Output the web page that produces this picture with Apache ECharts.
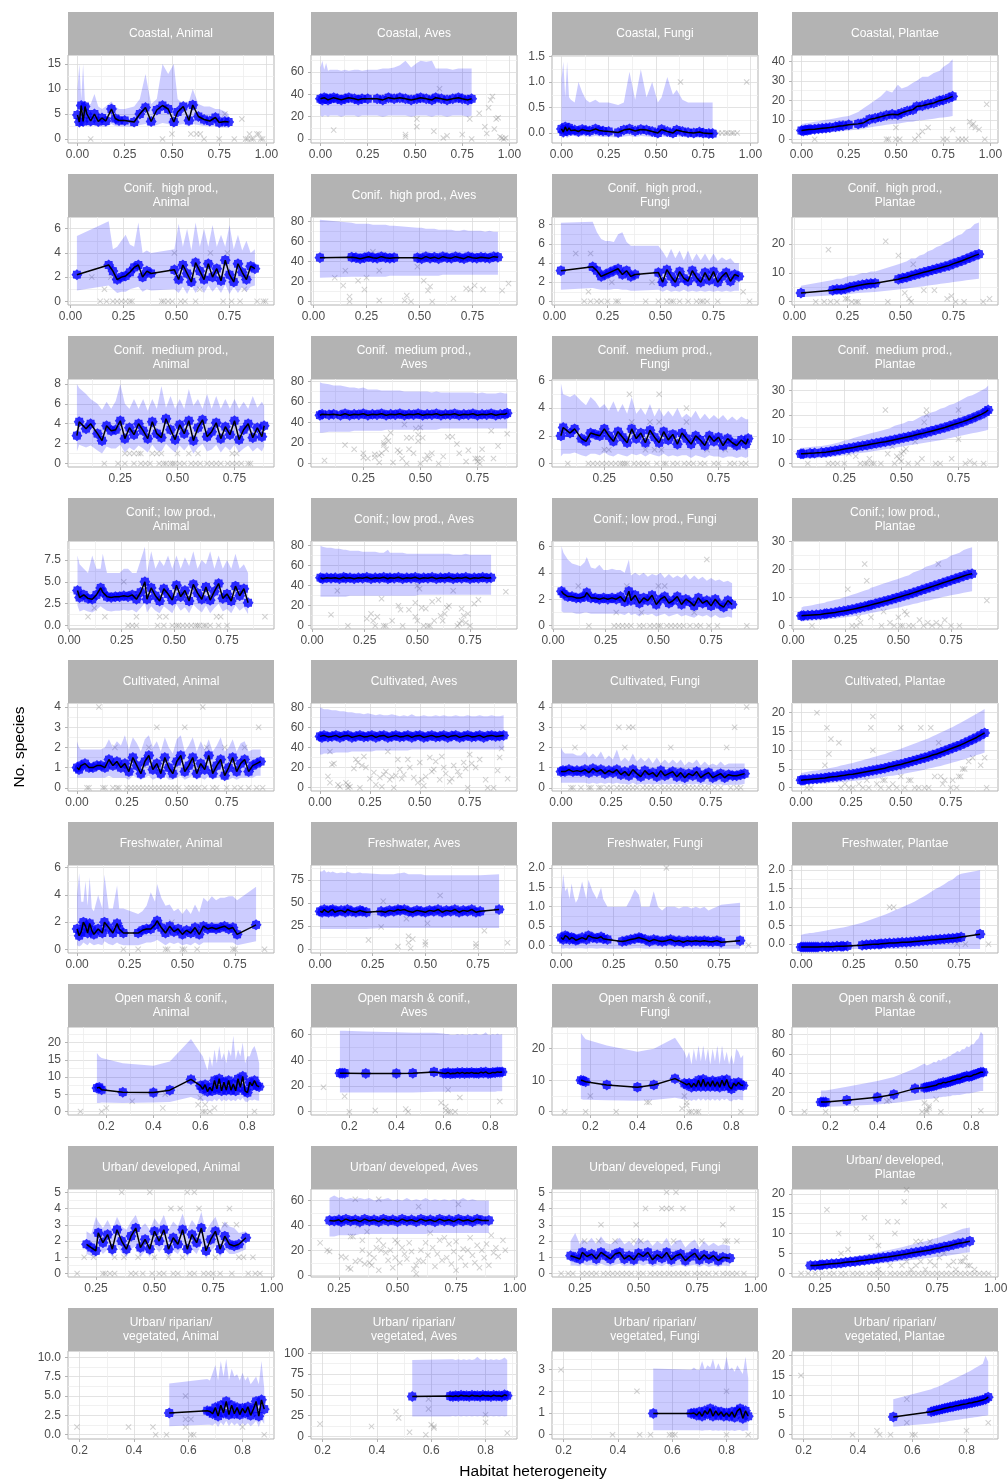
<!DOCTYPE html>
<html>
<head>
<meta charset="utf-8">
<script src="https://cdn.jsdelivr.net/npm/echarts@6/dist/echarts.min.js"></script>
<style>
html,body{margin:0;padding:0;background:#fff}
#chart{width:1008px;height:1481px}
</style>
</head>
<body>
<div id="chart"></div>
<script>
// facet strip labels
var stripTitles = [
	'Coastal, Animal', 'Coastal, Aves', 'Coastal, Fungi', 'Coastal, Plantae',
	'Conif.  high prod.,\nAnimal', 'Conif.  high prod., Aves', 'Conif.  high prod.,\nFungi', 'Conif.  high prod.,\nPlantae',
	'Conif.  medium prod.,\nAnimal', 'Conif.  medium prod.,\nAves', 'Conif.  medium prod.,\nFungi', 'Conif.  medium prod.,\nPlantae',
	'Conif.; low prod.,\nAnimal', 'Conif.; low prod., Aves', 'Conif.; low prod., Fungi', 'Conif.; low prod.,\nPlantae',
	'Cultivated, Animal', 'Cultivated, Aves', 'Cultivated, Fungi', 'Cultivated, Plantae',
	'Freshwater, Animal', 'Freshwater, Aves', 'Freshwater, Fungi', 'Freshwater, Plantae',
	'Open marsh & conif.,\nAnimal', 'Open marsh & conif.,\nAves', 'Open marsh & conif.,\nFungi', 'Open marsh & conif.,\nPlantae',
	'Urban/ developed, Animal', 'Urban/ developed, Aves', 'Urban/ developed, Fungi', 'Urban/ developed,\nPlantae',
	'Urban/ riparian/\nvegetated, Animal', 'Urban/ riparian/\nvegetated, Aves', 'Urban/ riparian/\nvegetated, Fungi', 'Urban/ riparian/\nvegetated, Plantae'
];
// x axis per row (habitat)
var xRanges = [[-0.05, 1.04], [-0.012, 0.96], [0.021, 0.923], [-0.005, 0.973], [-0.045, 0.987], [-0.043, 0.935], [0.037, 0.913], [0.131, 1.01], [0.157, 0.916]];
var xTicks = [[0, 0.25, 0.5, 0.75, 1], [0, 0.25, 0.5, 0.75], [0.25, 0.5, 0.75], [0, 0.25, 0.5, 0.75], [0, 0.25, 0.5, 0.75], [0, 0.25, 0.5, 0.75], [0.2, 0.4, 0.6, 0.8], [0.25, 0.5, 0.75, 1], [0.2, 0.4, 0.6, 0.8]];
// y axis per panel
var yRanges = [
	[-0.8, 16.8], [-3.5, 75.1], [-0.196, 1.53], [-1.9, 43.2],
	[-0.3, 6.96], [-3.4, 84.7], [-0.38, 8.8], [-1.15, 29.4],
	[-0.35, 8.5], [-3.3, 82.2], [-0.25, 6.1], [-1.4, 34.7],
	[-0.4, 9.66], [-3.3, 84.7], [-0.25, 6.4], [-1.2, 30.2],
	[-0.16, 4.2], [-3.3, 84.2], [-0.16, 4.2], [-0.9, 22.6],
	[-0.27, 6.2], [-4, 91], [-0.2, 2.08], [-0.24, 2.14],
	[-1, 24.5], [-2.6, 66], [-1.05, 26.9], [-3.4, 88],
	[-0.21, 5.2], [-1.4, 69.2], [-0.21, 5.2], [-0.9, 21.2],
	[-0.55, 10.8], [-3.2, 102.8], [-0.2, 3.86], [-1.1, 21.2]
];
var yTicks = [
	[0, 5, 10, 15], [0, 20, 40, 60], [0, 0.5, 1, 1.5], [0, 10, 20, 30, 40],
	[0, 2, 4, 6], [0, 20, 40, 60, 80], [0, 2, 4, 6, 8], [0, 10, 20],
	[0, 2, 4, 6, 8], [0, 20, 40, 60, 80], [0, 2, 4, 6], [0, 10, 20, 30],
	[0, 2.5, 5, 7.5], [0, 20, 40, 60, 80], [0, 2, 4, 6], [0, 10, 20, 30],
	[0, 1, 2, 3, 4], [0, 20, 40, 60, 80], [0, 1, 2, 3, 4], [0, 5, 10, 15, 20],
	[0, 2, 4, 6], [0, 25, 50, 75], [0, 0.5, 1, 1.5, 2], [0, 0.5, 1, 1.5, 2],
	[0, 5, 10, 15, 20], [0, 20, 40, 60], [0, 10, 20], [0, 20, 40, 60, 80],
	[0, 1, 2, 3, 4, 5], [0, 20, 40, 60], [0, 1, 2, 3, 4, 5], [0, 5, 10, 15, 20],
	[0, 2.5, 5, 7.5, 10], [0, 25, 50, 75, 100], [0, 1, 2, 3], [0, 5, 10, 15, 20]
];

// Coastal
var xCoastal = [0,0.01,0.02,0.03,0.04,0.05,0.07,0.09,0.11,0.13, 0.15,0.18,0.2,0.22,0.25,0.3,0.33,0.36,0.39,0.42, 0.45,0.48,0.51,0.53,0.56,0.59,0.61,0.64,0.67,0.7, 0.73,0.75,0.78,0.8];
var fitCoastalAnimal = [4.8,3.4,6.7,3.5,6.5,5.0,3.6,5.0,3.5,4.2, 3.6,6.0,4.1,3.7,3.7,3.4,5.0,6.3,3.5,5.8, 6.7,6.0,3.4,5.4,6.5,3.7,6.8,4.5,3.9,3.6, 4.3,3.3,3.5,3.4];
var hiCoastalAnimal = [10,15,8,15,7,7,7,9,6.5,6, 6.5,7.5,6.5,6,6,6.5,8,13,7,8, 15,13,15,8,7,7.5,10,7,6.5,6.5, 6,6,5.5,5];
var loCoastalAnimal = [2.8,2.2,2.8,2.4,2.8,2.6,2.5,2.8,2.4,2.5, 2.4,3,2.6,2.5,2.5,2.4,2.8,3,2.5,2.8, 3.2,3,2.4,2.8,3,2.5,3,2.8,2.6,2.5, 2.6,2.3,2.3,2.2];
var obsCoastalAnimal = [[0.07,0],[0.45,0],[0.5,1],[0.6,1],[0.63,1],[0.65,1],[0.67,0],[0.75,0],[0.78,5],[0.83,0],[0.87,4],[0.89,0],[0.9,0],[0.91,1],[0.92,0],[0.93,0],[0.95,1],[0.96,1],[0.97,0],[0.98,0]];
var fitCoastalAves = [36,35,37,36,35,36,37,36,35,36, 37,36,35,36,36,36,35,37,36,37, 36,35,36,37,36,35,37,36,35,36, 37,36,35,36];
var hiCoastalAves = [64,70,62,68,61,62,62,62,61,62, 61,62,62,61,62,62,63,63,64,66, 70,64,68,70,69,70,63,63,63,62, 63,63,63,63];
var loCoastalAves = [21,20,21,21,20,21,21,21,20,21, 21,21,20,21,21,21,20,21,21,21, 21,20,21,21,21,20,21,21,20,21, 21,21,20,21];
var obsCoastalAves = [[0.07,8],[0.45,2],[0.45,4],[0.51,11],[0.51,18],[0.6,7],[0.63,45],[0.65,1],[0.67,3],[0.75,4],[0.79,18],[0.8,0],[0.84,23],[0.87,11],[0.88,5],[0.89,28],[0.9,35],[0.91,38],[0.92,9],[0.93,18],[0.94,19],[0.95,2],[0.96,1],[0.97,0],[0.98,1]];
var fitCoastalFungi = [0.08,0.02,0.12,0.04,0.1,0.05,0.06,0.03,0.07,0.05, 0.04,0.08,0.05,0.04,0.03,0.01,0.06,0.08,0.04,0.07, 0.06,0.03,0.0,0.07,0.03,0.0,0.06,0.03,0.01,0.0, 0.02,0.0,-0.01,-0.01];
var hiCoastalFungi = [1.05,1.4,0.7,1.4,0.7,0.65,0.6,1.0,0.8,0.65, 0.6,0.65,0.6,0.6,0.6,0.55,0.6,1.2,0.65,1.25, 0.7,1.0,0.6,0.7,1.1,0.75,0.85,0.65,0.6,0.6, 0.6,0.6,0.6,0.6];
var loCoastalFungi = [-0.08,-0.1,-0.06,-0.1,-0.07,-0.06,-0.06,-0.08,-0.06,-0.07, -0.08,-0.06,-0.07,-0.08,-0.08,-0.09,-0.07,-0.06,-0.08,-0.06, -0.07,-0.08,-0.1,-0.07,-0.08,-0.1,-0.07,-0.08,-0.09,-0.1, -0.09,-0.1,-0.1,-0.1];
var obsCoastalFungi = [[0.63,1],[0.98,1],[0.83,0],[0.85,0],[0.87,0],[0.88,0],[0.9,0],[0.91,0],[0.93,0]];
var fitCoastalPlantae = [4.5,4.3,4.8,4.6,5.0,5.0,5.2,5.4,5.6,5.8, 6.0,6.4,6.8,7.0,7.4,7.9,8.5,10.2,10.8,11.5, 12.3,12.8,12.6,13.5,14.5,15.2,16.8,17.2,18.0,18.6, 19.8,20.2,21.2,22.0];
var hiCoastalPlantae = [8,8,8.2,8.3,8.5,8.6,9,9.3,9.6,10, 10.3,10.8,11.2,11.6,12,14,16,18,20,22, 25,24,28,26,27,29,30,32,32,34, 35,37,39,41];
var loCoastalPlantae = [2.5,2.5,2.6,2.7,2.8,2.9,3,3.1,3.2,3.4, 3.6,3.8,4,4.2,4.5,5,5.4,6,6.5,7, 7.4,7.8,8,8.4,8.8,9,9.5,9.8,10.2,10.5, 11,11.2,11.6,12];
var obsCoastalPlantae = [[0.07,0],[0.45,0],[0.46,0],[0.5,0],[0.5,6],[0.52,0],[0.6,0],[0.62,2],[0.64,4],[0.67,6],[0.75,0],[0.77,0],[0.8,5],[0.83,0],[0.85,0],[0.87,0],[0.89,9],[0.9,7],[0.91,8],[0.92,6],[0.94,5],[0.97,0],[0.98,18]];

// Conif. high prod.
var xConifHigh = [0.03,0.18,0.2,0.22,0.24,0.26,0.28,0.3,0.32,0.34, 0.36,0.38,0.49,0.51,0.53,0.55,0.57,0.59,0.61,0.63, 0.65,0.67,0.69,0.71,0.73,0.75,0.77,0.79,0.81,0.83, 0.85,0.87];
var fitConifHighAnimal = [2.2,3.0,2.5,1.8,2.0,2.1,2.4,2.8,3.0,2.0, 2.5,2.3,2.6,1.8,3.0,2.3,1.6,3.2,2.5,1.8, 3.1,2.0,2.7,1.7,3.4,2.2,1.6,3.1,2.4,1.8, 2.9,2.7];
var hiConifHighAnimal = [5.4,6.6,4.3,4.5,5.0,5.5,4.7,4.5,6.5,4.0, 4.2,4.0,4.3,6.4,4.5,6.0,4.2,6.5,4.5,6.0, 4.5,6.3,4.5,5.5,4.5,6.3,4.3,5.5,4.2,5.0, 4.0,4.3];
var loConifHighAnimal = [0.9,1.3,1.0,0.7,0.8,0.8,1.0,1.1,1.2,0.8, 1.0,0.9,1.0,0.7,1.2,0.6,1.3,0.7,1.2,0.7, 1.3,0.8,1.2,0.7,1.4,0.6,1.2,0.7,1.2,0.8, 1.2,1.3];
var obsConifHighAnimal = [[0.1,2],[0.14,0],[0.16,1],[0.17,0],[0.19,2],[0.2,0],[0.22,0],[0.24,0],[0.26,0],[0.28,0],[0.29,0],[0.43,0],[0.44,0],[0.46,0],[0.48,0],[0.49,4],[0.52,0],[0.54,0],[0.59,0],[0.61,1],[0.66,4],[0.72,0],[0.74,4],[0.76,0],[0.8,0],[0.82,1],[0.88,0],[0.91,0],[0.92,0]];
var fitConifHighAves = [44,44.5,44,43,44,45,44,43.5,45,44, 43.5,44,44,43,45,43.5,44.5,43,45,44, 43.5,45,44,43,45,44,43.5,44.5,44,43.5, 45,44.5];
var hiConifHighAves = [82,79,78,78,78,78,77,77,77,77, 76,76,74,74,73,73,73,72,72,72, 72,71,71,72,71,71,71,71,70,71, 70,70];
var loConifHighAves = [24,25,25,25,25,25,25,25,25,25, 26,26,26,26,26,26,26,26,27,27, 27,27,27,27,27,27,27,27,27,27, 27,27];
var obsConifHighAves = [[0.1,24],[0.14,16],[0.15,31],[0.17,5],[0.17,0],[0.21,21],[0.24,12],[0.25,24],[0.28,50],[0.31,31],[0.31,1],[0.43,1],[0.44,6],[0.46,0],[0.49,35],[0.52,21],[0.54,11],[0.55,15],[0.56,0],[0.66,3],[0.72,13],[0.74,12],[0.76,16],[0.8,12],[0.89,11],[0.92,18]];
var fitConifHighFungi = [3.2,3.6,3.2,2.6,2.8,3.0,3.2,3.4,2.8,3.2, 2.6,2.8,3.0,2.0,3.3,2.6,2.0,3.1,2.4,2.1, 3.2,2.5,2.0,3.0,2.2,3.1,2.0,2.6,3.0,2.1, 2.8,2.6];
var hiConifHighFungi = [8.2,8.3,7.2,6.5,6.3,6.3,6.2,7.0,7.2,6.2, 5.8,5.8,5.8,5.2,4.5,5.5,4.5,5.3,4.3,5.3, 4.2,5.0,4.3,5.0,4.2,5.0,4.2,4.6,4.3,4.5, 4.0,4.0];
var loConifHighFungi = [1.2,1.4,1.3,1.2,1.2,1.2,1.3,1.3,1.2,1.2, 1.1,1.1,1.2,1.0,1.2,1.0,1.1,1.0,1.2,1.0, 1.1,1.0,1.1,1.0,1.1,1.0,1.1,1.0,1.1,1.0, 1.1,1.1];
var obsConifHighFungi = [[0.1,5],[0.14,0],[0.16,1],[0.17,5],[0.17,0],[0.2,0],[0.22,0],[0.25,0],[0.27,2],[0.29,0],[0.3,0],[0.43,0],[0.46,2],[0.49,0],[0.53,0],[0.55,0],[0.56,0],[0.59,0],[0.63,0],[0.67,0],[0.69,0],[0.7,0],[0.72,0],[0.77,0],[0.89,1],[0.92,0]];
var fitConifHighPlantae = [3,4,4.3,4.2,4.5,5,5.3,5.6,5.9,6.1, 6.3,6.4,7.8,8.2,8.5,9.0,9.4,9.8,10.2,10.6, 11,11.4,11.8,12.2,12.6,13.2,13.7,14.2,14.8,15.4, 16,16.5];
var hiConifHighPlantae = [5.5,7.5,8,8,8.5,9,9,9.5,10,10, 10.5,10.5,13,13.5,14,15,15,16,16.5,17.5, 18,19,19.5,20.5,21,22,23,23.5,25,25.5, 27,27.5];
var loConifHighPlantae = [1.5,2.2,2.3,2.4,2.5,2.7,2.8,3,3.1,3.2, 3.3,3.4,4.2,4.4,4.6,4.8,5,5.2,5.4,5.6, 5.8,6,6.2,6.4,6.6,6.8,7,7.2,7.4,7.6, 7.8,8];
var obsConifHighPlantae = [[0.1,0],[0.14,0],[0.16,18],[0.17,0],[0.2,0],[0.24,1],[0.25,1],[0.27,0],[0.29,0],[0.3,0],[0.43,21],[0.44,0],[0.49,16],[0.52,3],[0.54,1],[0.55,0],[0.56,13],[0.61,4],[0.66,4],[0.72,1],[0.74,2],[0.76,0],[0.8,0],[0.89,0],[0.92,1]];

// Conif. medium prod.
var xConifMed = [0.06,0.07,0.1,0.12,0.15,0.17,0.19,0.21,0.23,0.25, 0.27,0.29,0.31,0.33,0.35,0.37,0.39,0.41,0.43,0.45, 0.47,0.49,0.51,0.53,0.55,0.57,0.59,0.61,0.63,0.65, 0.67,0.69,0.71,0.73,0.75,0.77,0.79,0.81,0.83,0.85, 0.87,0.88];
var fitConifMedAnimal = [2.8,4.2,3.5,4.0,3.0,2.3,3.8,3.3,3.4,4.3, 2.5,3.6,2.9,4.0,3.3,2.5,4.2,3.0,2.6,4.5, 3.4,2.4,3.9,3.0,4.3,2.3,3.6,4.4,2.7,3.2, 4.1,2.5,3.7,2.9,4.3,2.4,3.4,4.0,2.6,3.6, 2.7,3.8];
var hiConifMedAnimal = [8.0,7.6,7,6.5,6.0,5.4,6.2,5.5,6.3,8.0, 6,5.5,6.5,5.5,6.5,5.3,6.5,5.5,7.8,5.6, 6.8,5.5,6.5,5.5,7.5,5.8,6.5,5.5,7,5.5, 6.8,5.5,6.5,5.5,6.5,5.5,6.2,5.5,6.8,5.6, 6.2,5.8];
var loConifMedAnimal = [1.2,1.9,1.6,1.8,1.3,1.0,1.7,1.5,1.5,1.9, 1.1,1.6,1.3,1.8,1.5,1.1,1.9,1.3,1.2,2.0, 1.5,1.1,1.8,1.3,1.9,1.0,1.6,2.0,1.2,1.4, 1.9,1.1,1.7,1.3,1.9,1.1,1.5,1.8,1.2,1.6, 1.2,1.7];
var obsConifMedAnimal = [[0.18,0],[0.24,0],[0.27,0],[0.27,1],[0.29,1],[0.31,0],[0.31,1],[0.33,1],[0.34,1],[0.34,0],[0.36,0],[0.38,0],[0.39,1],[0.41,1],[0.42,0],[0.43,1],[0.44,0],[0.45,0],[0.47,0],[0.48,0],[0.49,0],[0.5,1],[0.51,0],[0.53,0],[0.55,1],[0.56,0],[0.58,0],[0.59,1],[0.6,0],[0.63,0],[0.65,0],[0.67,0],[0.69,0],[0.72,0],[0.74,0],[0.74,1],[0.76,1],[0.76,0],[0.78,0],[0.81,0],[0.82,0]];
var fitConifMedAves = [47,48,47.5,48,47,48.5,47,48,47.5,48.5, 47,48,47.5,48.5,47,48,47.5,48.5,47,48, 47.5,48.5,47,48,47.5,48.5,47,48,47.5,48.5, 47,48,47.5,48.5,47,48,47.5,48.5,47,48, 48,49];
var hiConifMedAves = [79,78,77,76,76,75,74,74,73,74, 72,72,72,71,71,71,71,71,70,70, 70,70,70,70,69,70,69,69,69,69, 69,69,69,69,68,69,68,68,68,69, 68,68];
var loConifMedAves = [30,30,31,31,31,31,31,32,32,32, 32,32,32,32,33,33,33,33,33,33, 33,33,33,33,33,33,34,34,34,34, 34,34,34,34,34,34,34,34,34,34, 34,34];
var obsConifMedAves = [[0.08,3],[0.17,18],[0.21,14],[0.25,10],[0.25,6],[0.27,5],[0.3,9],[0.3,6],[0.32,1],[0.32,8],[0.33,10],[0.34,18],[0.34,20],[0.35,14],[0.35,25],[0.36,22],[0.37,30],[0.38,1],[0.4,13],[0.41,11],[0.42,5],[0.43,38],[0.44,25],[0.44,0],[0.45,14],[0.46,25],[0.47,10],[0.48,34],[0.49,22],[0.49,28],[0.5,35],[0.5,0],[0.51,25],[0.52,4],[0.53,8],[0.54,5],[0.55,10],[0.58,0],[0.6,7],[0.62,26],[0.64,26],[0.66,19],[0.67,10],[0.7,2],[0.71,13],[0.74,5],[0.75,5],[0.75,2],[0.76,0],[0.77,14],[0.77,5],[0.81,32],[0.82,5],[0.84,17],[0.88,29]];
var fitConifMedFungi = [2.0,2.6,2.2,2.5,1.8,1.6,2.2,2.1,2.0,2.5, 2.0,1.6,2.3,1.9,1.5,2.5,1.8,2.2,1.5,2.4, 1.9,1.5,2.3,1.7,2.1,1.4,2.2,1.8,1.4,2.0, 1.7,1.3,2.0,1.6,1.9,1.3,1.8,1.5,1.3,1.7, 1.4,1.8];
var hiConifMedFungi = [5.8,5.0,4.8,5.0,4.5,4.2,4.8,4.5,4.0,4.3, 3.8,4.5,3.7,4.3,3.6,4.8,3.6,4.0,3.5,4.3, 3.4,4.0,3.4,3.8,3.4,4.0,3.3,3.6,3.3,3.8, 3.2,3.6,3.2,3.5,3.2,3.5,3.1,3.4,3.1,3.4, 3.2,3.2];
var loConifMedFungi = [0.5,0.7,0.7,0.8,0.6,0.5,0.7,0.7,0.6,0.8, 0.6,0.5,0.7,0.6,0.5,0.7,0.6,0.7,0.5,0.7, 0.6,0.5,0.7,0.5,0.6,0.5,0.6,0.6,0.4,0.6, 0.5,0.4,0.6,0.5,0.5,0.4,0.5,0.5,0.4,0.5, 0.4,0.5];
var obsConifMedFungi = [[0.09,0],[0.18,0],[0.2,0],[0.22,0],[0.24,0],[0.25,1],[0.26,0],[0.27,1],[0.28,0],[0.3,0],[0.32,0],[0.33,0],[0.34,0],[0.35,0],[0.36,5],[0.37,3],[0.38,0],[0.4,0],[0.42,0],[0.43,1],[0.44,0],[0.45,3],[0.47,1],[0.48,0],[0.49,5],[0.49,3],[0.5,1],[0.51,0],[0.52,0],[0.55,0],[0.57,0],[0.6,0],[0.61,4],[0.61,3],[0.62,0],[0.64,0],[0.67,0],[0.69,0],[0.7,1],[0.73,0],[0.75,0],[0.78,1],[0.8,0],[0.82,0],[0.85,0],[0.87,0]];
var fitConifMedPlantae = [4,4,4.2,4.3,4.5,4.7,5,5.3,5.6,6, 6.3,6.6,7,7.3,7.6,8,8.3,8.7,9,9.4, 9.8,10.2,10.6,11,11.4,11.9,12.3,12.8,13.3,13.8, 14.3,14.8,15.4,16,16.6,17.2,17.9,18.6,19.4,20.2, 21.2,22];
var hiConifMedPlantae = [6.5,6.5,6.8,7,7.2,7.5,7.8,8.3,8.8,9.5, 9.8,10.5,11,11.5,12,12.5,13,13.5,14,14.5, 15.5,16,16.5,17.5,17.5,18.5,19.5,20,21,21.5, 22.5,23,24,24.5,25.5,26.5,27.5,28,29,30, 31,32];
var loConifMedPlantae = [2,2,2.1,2.2,2.3,2.5,2.7,2.9,3.1,3.4, 3.6,3.9,4.2,4.4,4.7,5,5.3,5.6,5.9,6.2, 6.5,6.8,7.1,7.4,7.7,8,8.3,8.6,9,9.3, 9.6,10,10.4,10.8,11.2,11.6,12,12.4,12.8,13.2, 13.6,14];
var obsConifMedPlantae = [[0.09,0],[0.18,0],[0.2,0],[0.22,0],[0.25,0],[0.27,4],[0.3,3],[0.32,0],[0.34,0],[0.35,0],[0.36,2],[0.37,0],[0.38,0],[0.41,0],[0.43,22],[0.44,4],[0.46,7],[0.47,0],[0.48,3],[0.49,2],[0.5,1],[0.5,4],[0.51,5],[0.52,6],[0.53,0],[0.56,9],[0.57,0],[0.59,2],[0.6,17],[0.61,22],[0.61,20],[0.65,0],[0.67,0],[0.72,2],[0.75,22],[0.75,10],[0.78,0],[0.8,1],[0.82,0],[0.86,0]];

// Conif.; low prod.
var xConifLow = [0.04,0.05,0.07,0.09,0.11,0.13,0.15,0.16,0.18,0.2, 0.22,0.24,0.26,0.28,0.3,0.32,0.34,0.36,0.37,0.39, 0.41,0.43,0.45,0.47,0.49,0.51,0.53,0.55,0.57,0.59, 0.61,0.63,0.65,0.67,0.69,0.71,0.73,0.75,0.77,0.79, 0.81,0.83,0.85];
var fitConifLowAnimal = [4.0,3.2,3.5,3.1,3.0,3.5,4.3,3.8,3.3,3.2, 3.3,3.3,3.4,3.3,3.5,3.0,3.8,5.0,3.0,4.3, 3.4,2.8,4.2,3.6,2.9,4.6,3.3,4.0,2.8,4.7, 3.7,3.0,4.4,2.9,3.9,4.8,3.1,3.6,2.8,4.5, 3.4,4.2,2.6];
var hiConifLowAnimal = [8,7,6.5,6,8,6.5,6.5,8.2,6,6, 6,6,6.5,6.5,6,6,7.5,9,6,8.5, 6.5,7.5,6.8,8,6.5,8,6.5,7.8,6.8,8.5, 6.5,7.5,7,8.5,6.5,8,6.5,7.5,6.5,8.2, 6.5,7,6];
var loConifLowAnimal = [2.3,1.6,1.8,1.6,1.5,1.8,2.2,2.0,1.7,1.6, 1.7,1.7,1.8,1.7,1.8,1.5,2.0,2.6,1.5,2.2, 1.7,1.4,2.2,1.8,1.4,2.4,1.7,2.1,1.4,2.4, 1.9,1.5,2.3,1.4,2.0,2.5,1.6,1.9,1.4,2.3, 1.7,2.1,1.3];
var obsConifLowAnimal = [[0.09,1],[0.12,2],[0.17,1],[0.26,5],[0.28,0],[0.3,0],[0.32,0],[0.32,1],[0.42,0],[0.43,1],[0.45,0],[0.46,1],[0.49,0],[0.51,0],[0.52,0],[0.54,0],[0.56,0],[0.58,0],[0.6,0],[0.61,0],[0.62,0],[0.64,0],[0.65,0],[0.67,0],[0.7,1],[0.71,0],[0.72,1],[0.75,0],[0.93,1]];
var fitConifLowAves = [48,47,48,47.5,48,47,48.5,47.5,48,47, 48,47.5,48.5,47,48,47.5,48.5,47,48,47.5, 48.5,47,48,47.5,48.5,47,48,47.5,48.5,47, 48,47.5,48.5,47,48,47.5,48.5,47,48,47.5, 48.5,47.5,48];
var hiConifLowAves = [80,79,78,78,77,77,76,76,75,75, 75,74,74,74,74,73,73,76,73,73, 73,73,72,72,72,72,72,72,72,72, 72,72,72,71,71,71,72,71,71,71, 71,71,71];
var loConifLowAves = [29,29,29,29,29,29,29,29,30,30, 30,30,30,30,30,30,30,30,30,30, 30,30,30,30,30,31,31,31,31,31, 31,31,31,31,31,31,31,31,31,31, 31,31,31];
var obsConifLowAves = [[0.09,11],[0.12,35],[0.17,0],[0.26,7],[0.28,12],[0.29,5],[0.3,0],[0.31,9],[0.33,27],[0.34,0],[0.35,0],[0.38,5],[0.41,20],[0.42,16],[0.43,0],[0.46,16],[0.49,23],[0.49,9],[0.5,5],[0.5,40],[0.51,37],[0.52,18],[0.53,0],[0.54,17],[0.55,0],[0.56,0],[0.57,24],[0.58,5],[0.6,26],[0.61,10],[0.62,5],[0.63,12],[0.64,18],[0.65,20],[0.67,35],[0.69,0],[0.7,2],[0.71,17],[0.71,5],[0.72,10],[0.73,3],[0.74,12],[0.75,0],[0.77,22],[0.79,26],[0.92,34]];
var fitConifLowFungi = [2.6,2.4,2.2,2.2,2.1,2.1,2.2,2.5,2.1,2.1, 2.0,2.1,2.0,2.1,2.0,2.2,1.8,2.6,1.9,2.3, 1.7,2.1,1.9,2.3,1.6,2.0,2.2,1.7,1.9,2.2, 1.6,2.0,1.8,1.5,2.1,1.7,1.9,1.5,2.0,1.6, 1.4,1.9,1.6];
var hiConifLowFungi = [6,5.5,5,4.7,4.6,4.5,4.8,5.2,4.4,4.3, 4.6,4.2,4.2,4.3,4.2,4.2,4.0,5.0,3.8,4.0, 3.8,4.0,3.7,3.9,3.8,4.0,3.6,3.9,3.6,3.8, 3.6,3.9,3.5,3.8,3.5,3.7,3.4,3.6,3.4,3.5, 3.3,3.4,3.2];
var loConifLowFungi = [1.1,1.0,1.0,1.0,0.9,0.9,1.0,1.0,0.9,0.9, 0.9,0.9,0.9,0.9,0.9,0.9,0.8,1.0,0.8,0.9, 0.7,0.9,0.8,0.9,0.7,0.8,0.9,0.7,0.8,0.9, 0.7,0.8,0.7,0.6,0.8,0.7,0.8,0.6,0.8,0.6, 0.6,0.7,0.6];
var obsConifLowFungi = [[0.12,3],[0.17,0],[0.29,0],[0.3,1],[0.31,0],[0.33,0],[0.35,3],[0.35,0],[0.37,0],[0.41,0],[0.42,1],[0.43,0],[0.46,0],[0.48,0],[0.5,3],[0.5,0],[0.51,0],[0.53,3],[0.54,0],[0.56,0],[0.58,0],[0.6,0],[0.62,0],[0.65,0],[0.67,1],[0.68,0],[0.7,0],[0.73,5],[0.74,0],[0.78,0],[0.92,0]];
var fitConifLowPlantae = [3.5,3.6,3.7,3.8,3.9,4,4.2,4.3,4.5,4.7, 5,5.2,5.5,5.8,6.1,6.5,6.8,7.2,7.4,7.8, 8.2,8.6,9,9.4,9.9,10.3,10.8,11.2,11.7,12.2, 12.7,13.2,13.7,14.2,14.7,15.2,15.7,16.2,16.7,17.2, 17.7,18.2,18.5];
var hiConifLowPlantae = [6.5,6.8,7,7.3,7.6,7.9,8.2,8.5,8.8,9.2, 9.5,10,10.5,11,11.5,12,12.5,13,13.5,14, 14.5,15,15.5,16,16.5,17,17.5,18,19,19.5, 20,21,21.5,22,23,23.5,24,25,25.5,26, 27,27.5,28];
var loConifLowPlantae = [1.5,1.6,1.7,1.8,1.9,2,2.1,2.2,2.4,2.5, 2.7,2.9,3.1,3.3,3.5,3.8,4,4.3,4.5,4.8, 5.1,5.4,5.7,6,6.3,6.6,7,7.3,7.7,8, 8.4,8.8,9.1,9.5,9.8,10.2,10.5,10.8,11.1,11.4, 11.7,12,12.3];
var obsConifLowPlantae = [[0.09,0],[0.26,13],[0.28,0],[0.3,0],[0.31,3],[0.32,1],[0.34,22],[0.35,16],[0.37,3],[0.42,0],[0.43,5],[0.46,1],[0.48,0],[0.5,3],[0.51,0],[0.52,0],[0.53,5],[0.54,4],[0.55,0],[0.57,0],[0.6,2],[0.62,0],[0.64,1],[0.66,0],[0.68,1],[0.69,22],[0.7,0],[0.72,2],[0.75,0],[0.79,0],[0.92,9]];

// Cultivated
var xCultivated = [0,0.01,0.02,0.04,0.06,0.08,0.1,0.12,0.14,0.16, 0.18,0.2,0.22,0.24,0.26,0.28,0.3,0.32,0.34,0.36, 0.38,0.4,0.42,0.44,0.46,0.48,0.5,0.52,0.54,0.56, 0.58,0.6,0.62,0.64,0.66,0.68,0.7,0.72,0.74,0.76, 0.78,0.8,0.82,0.84,0.86,0.88,0.9,0.92];
var fitCultivatedAnimal = [1.0,0.9,1.1,1.2,1.0,1.0,1.1,1.1,1.0,1.4, 1.1,1.3,1.0,1.2,0.8,1.5,1.1,0.7,1.3,1.6, 0.9,1.2,0.7,1.5,1.0,0.7,1.3,1.6,0.8,1.1, 1.5,0.7,1.2,0.9,1.6,0.7,1.1,1.4,0.6,1.0, 1.5,0.8,1.2,1.4,0.8,1.1,1.2,1.3];
var hiCultivatedAnimal = [2.3,2.0,1.9,1.9,1.9,1.9,1.9,1.9,2.0,2.4, 2.0,2.3,2.1,2.6,1.9,2.5,2.2,1.8,2.4,2.6, 2.0,2.3,1.8,2.5,2.0,1.7,2.4,2.6,1.8,2.1, 2.5,1.8,2.3,1.9,2.4,1.8,2.1,2.5,1.8,2.0, 2.4,1.8,2.2,2.3,1.8,1.9,1.9,1.9];
var loCultivatedAnimal = [0.5,0.5,0.5,0.5,0.5,0.5,0.5,0.5,0.5,0.6, 0.5,0.5,0.5,0.5,0.4,0.6,0.5,0.4,0.5,0.6, 0.4,0.5,0.4,0.6,0.4,0.4,0.5,0.6,0.4,0.5, 0.6,0.4,0.5,0.4,0.6,0.4,0.5,0.5,0.4,0.4, 0.5,0.4,0.5,0.5,0.5,0.5,0.6,0.6];
var obsCultivatedAnimal = [[0.05,0],[0.06,0],[0.11,4],[0.13,0],[0.14,0],[0.18,0],[0.19,2],[0.2,0],[0.21,0],[0.25,0],[0.27,0],[0.29,0],[0.31,0],[0.33,0],[0.35,0],[0.36,2],[0.37,0],[0.39,0],[0.4,3],[0.41,0],[0.43,0],[0.45,0],[0.47,0],[0.49,0],[0.51,0],[0.54,3],[0.55,0],[0.57,0],[0.59,0],[0.61,0],[0.63,4],[0.64,0],[0.65,2],[0.68,0],[0.7,0],[0.74,2],[0.75,0],[0.79,0],[0.82,0],[0.84,2],[0.86,0],[0.9,0],[0.91,3],[0.93,0]];
var fitCultivatedAves = [51,50,52,50.5,51,52,50,51.5,52,50, 51,52,50.5,51,52,50,51.5,52,50,51, 52,50.5,51,52,50,51.5,52,50,51,52, 50.5,51,52,50,51.5,52,50,51,52,50.5, 51,52,50,51.5,52,51,51.5,52];
var hiCultivatedAves = [80,79,78,78,77,77,76,76,75,75, 74,74,73,74,73,72,73,72,72,73, 72,71,72,71,73,71,71,72,71,71, 72,71,72,71,71,72,71,71,72,71, 71,72,71,71,72,71,71,72];
var loCultivatedAves = [33,33,34,34,34,35,35,35,35,36, 36,36,36,36,36,37,37,37,37,37, 37,37,37,37,38,38,38,38,38,38, 38,38,38,38,38,38,38,38,38,38, 38,38,38,38,38,38,38,38];
var obsCultivatedAves = [[0.04,11],[0.05,36],[0.05,5],[0.06,23],[0.07,24],[0.09,3],[0.1,1],[0.13,5],[0.14,0],[0.14,3],[0.15,1],[0.17,19],[0.18,28],[0.19,25],[0.2,0],[0.21,22],[0.22,31],[0.23,20],[0.25,9],[0.27,15],[0.28,3],[0.3,10],[0.31,1],[0.32,13],[0.33,16],[0.34,36],[0.35,8],[0.36,11],[0.37,0],[0.38,12],[0.39,28],[0.4,18],[0.41,9],[0.42,13],[0.44,28],[0.45,20],[0.47,10],[0.49,5],[0.5,25],[0.51,8],[0.52,2],[0.53,11],[0.55,30],[0.56,16],[0.57,18],[0.58,26],[0.6,8],[0.61,31],[0.62,20],[0.63,14],[0.65,6],[0.66,9],[0.67,22],[0.69,16],[0.7,12],[0.72,25],[0.73,19],[0.74,0],[0.75,33],[0.76,24],[0.78,20],[0.8,28],[0.83,8],[0.84,0],[0.87,0],[0.89,17],[0.9,30],[0.91,39],[0.94,9]];
var fitCultivatedFungi = [0.8,0.85,0.8,0.9,0.8,0.85,0.8,0.9,0.75,0.95, 0.8,0.9,0.7,0.85,0.75,0.9,0.65,0.8,0.6,0.9, 0.7,0.55,0.85,0.65,0.75,0.55,0.85,0.6,0.7,0.8, 0.55,0.75,0.5,0.7,0.6,0.8,0.5,0.65,0.75,0.5, 0.6,0.7,0.5,0.65,0.6,0.6,0.65,0.7];
var hiCultivatedFungi = [2.0,1.8,1.7,1.7,1.7,1.6,1.6,1.8,1.5,1.7, 1.5,1.8,1.4,1.6,1.4,1.9,1.3,1.5,1.3,1.7, 1.3,1.5,1.3,1.5,1.2,1.5,1.2,1.4,1.2,1.4, 1.2,1.4,1.1,1.3,1.2,1.4,1.1,1.3,1.1,1.2, 1.1,1.3,1.1,1.2,1.2,1.2,1.2,1.2];
var loCultivatedFungi = [0.25,0.25,0.25,0.25,0.25,0.25,0.25,0.25,0.2,0.25, 0.2,0.25,0.2,0.25,0.2,0.25,0.2,0.2,0.15,0.25, 0.15,0.2,0.15,0.2,0.15,0.2,0.15,0.2,0.15,0.2, 0.15,0.2,0.12,0.2,0.15,0.2,0.12,0.2,0.12,0.18, 0.15,0.18,0.12,0.15,0.15,0.15,0.15,0.2];
var obsCultivatedFungi = [[0.05,0],[0.06,0],[0.1,0],[0.14,0],[0.15,0],[0.19,0],[0.2,0],[0.23,0],[0.25,0],[0.28,0],[0.3,0],[0.32,0],[0.34,0],[0.36,0],[0.38,0],[0.41,0],[0.43,0],[0.45,0],[0.47,0],[0.5,0],[0.52,0],[0.54,0],[0.56,0],[0.58,0],[0.6,0],[0.62,0],[0.64,0],[0.66,0],[0.68,0],[0.7,0],[0.72,0],[0.74,0],[0.77,0],[0.8,0],[0.85,0],[0.88,0],[0.9,0],[0.07,2],[0.11,3],[0.29,3],[0.32,2],[0.34,3],[0.36,3],[0.55,2],[0.83,2],[0.87,3],[0.93,4]];
var fitCultivatedPlantae = [2,2,2.1,2.2,2.3,2.4,2.5,2.6,2.8,2.9, 3,3.2,3.3,3.5,3.6,3.8,4,4.2,4.4,4.6, 4.8,5,5.2,5.5,5.7,6,6.2,6.5,6.8,7.1, 7.4,7.7,8,8.3,8.7,9,9.4,9.8,10.2,10.6, 11,11.4,11.9,12.4,12.9,13.4,14,14.6];
var hiCultivatedPlantae = [4,4,4.1,4.3,4.5,4.6,4.8,5,5.2,5.4, 5.6,5.9,6.1,6.4,6.6,6.9,7.2,7.5,7.8,8.1, 8.4,8.7,9,9.4,9.7,10,10.4,10.8,11.2,11.6, 12,12.4,12.8,13.2,13.7,14.2,14.7,15.2,15.7,16.2, 16.8,17.3,17.9,18.5,19.1,19.7,20.3,21];
var loCultivatedPlantae = [0.8,0.8,0.9,0.9,1,1,1.1,1.1,1.2,1.3, 1.4,1.5,1.6,1.7,1.8,1.9,2,2.1,2.3,2.4, 2.6,2.7,2.9,3.1,3.2,3.4,3.6,3.8,4,4.2, 4.4,4.6,4.8,5.1,5.3,5.6,5.8,6.1,6.4,6.7, 7,7.3,7.6,8,8.3,8.7,9,9.4];
var obsCultivatedPlantae = [[0.03,0],[0.05,0],[0.08,20],[0.12,6],[0.13,16],[0.14,9],[0.15,13],[0.19,12],[0.2,0],[0.22,1],[0.24,0],[0.26,0],[0.29,1],[0.31,0],[0.33,2],[0.34,0],[0.35,16],[0.36,19],[0.36,10],[0.38,1],[0.4,0],[0.41,2],[0.42,2],[0.44,0],[0.46,1],[0.48,0],[0.5,16],[0.5,3],[0.52,0],[0.54,2],[0.55,2],[0.57,0],[0.59,0],[0.6,16],[0.62,0],[0.64,0],[0.65,16],[0.67,3],[0.69,12],[0.7,3],[0.71,1],[0.72,2],[0.75,0],[0.76,2],[0.78,0],[0.79,3],[0.8,3],[0.81,5],[0.82,5],[0.84,7],[0.86,8],[0.9,6],[0.92,8],[0.93,0]];

// Freshwater
var xFreshwater = [0,0.01,0.02,0.03,0.04,0.05,0.06,0.07,0.08,0.1, 0.12,0.13,0.15,0.17,0.19,0.2,0.22,0.29,0.31,0.33, 0.35,0.37,0.38,0.4,0.42,0.44,0.46,0.48,0.5,0.52, 0.54,0.56,0.58,0.6,0.62,0.64,0.66,0.68,0.7,0.72, 0.74,0.76,0.85];
var fitFreshwaterAnimal = [1.5,1.0,1.3,2.0,1.7,1.2,1.9,1.4,1.1,1.5, 1.2,2.0,1.6,1.2,1.9,1.5,1.2,1.2,1.4,1.5, 1.5,1.8,2.1,1.6,1.2,1.7,1.3,1.5,1.1,1.4, 1.2,1.6,1.1,1.7,1.5,1.6,1.5,1.6,1.7,1.5, 1.6,1.1,1.8];
var hiFreshwaterAnimal = [4.0,5.6,3.5,3.5,5.0,3.2,5.3,3.0,2.8,4.0, 3.0,5.5,3.0,3.0,4.7,3.0,3.0,2.6,2.8,3.2, 4.2,3.5,4.8,3.8,3.2,3.3,2.8,3.0,2.6,3.0, 2.6,3.3,2.7,3.8,3.5,3.9,3.6,3.8,3.8,3.9, 3.9,3.6,4.6];
var loFreshwaterAnimal = [0.3,0.2,0.3,0.5,0.4,0.3,0.5,0.4,0.3,0.4, 0.3,0.6,0.4,0.3,0.5,0.4,0.3,0.3,0.4,0.5, 0.5,0.6,0.7,0.5,0.3,0.5,0.4,0.5,0.3,0.4, 0.3,0.5,0.3,0.5,0.5,0.5,0.5,0.5,0.5,0.5, 0.5,0.3,0.6];
var obsFreshwaterAnimal = [[0.22,0],[0.29,0],[0.42,0],[0.43,0],[0.45,2],[0.5,0],[0.51,0],[0.57,0],[0.74,0],[0.75,0],[0.89,0]];
var fitFreshwaterAves = [41,40,43,41,40,42,43,40,41,42, 40,43,41,40,42,41,40,41,40,42, 41,43,42,43,41,40,42,41,40,42, 41,43,40,42,41,43,40,42,41,43, 40,41,43];
var hiFreshwaterAves = [84,84,86,83,84,83,84,83,82,83, 82,84,82,82,83,82,82,81,81,81, 81,82,82,83,81,81,81,81,80,80, 80,80,80,80,80,80,80,80,80,80, 80,80,81];
var loFreshwaterAves = [22,22,22,22,22,22,22,22,22,22, 22,22,22,22,22,22,22,23,23,23, 23,23,23,23,23,23,23,23,23,23, 23,23,23,23,23,23,23,23,23,23, 23,23,23];
var obsFreshwaterAves = [[0.23,10],[0.29,24],[0.3,52],[0.37,3],[0.41,33],[0.42,14],[0.42,7],[0.43,1],[0.44,11],[0.5,8],[0.5,5],[0.51,28],[0.57,58],[0.74,6],[0.74,3],[0.78,20],[0.89,7]];
var fitFreshwaterFungi = [0.2,0.15,0.25,0.22,0.15,0.2,0.18,0.13,0.15,0.2, 0.15,0.25,0.2,0.18,0.22,0.17,0.15,0.1,0.12,0.15, 0.17,0.2,0.18,0.15,0.1,0.15,0.12,0.1,0.12,0.15, 0.1,0.12,0.08,0.12,0.1,0.12,0.1,0.12,0.1,0.09, 0.12,0.08,0.12];
var hiFreshwaterFungi = [1.2,1.85,1.4,1.5,1.2,1.6,1.3,1.1,1.2,1.65, 1.2,1.7,1.4,1.2,1.5,1.2,1.0,1.0,1.0,1.2, 1.45,1.3,1.0,1.0,1.0,1.4,1.0,0.9,1.0,1.0, 1.0,0.95,1.0,1.0,0.95,1.0,0.95,1.0,0.9,0.95, 1.0,1.05,1.1];
var loFreshwaterFungi = [-0.08,-0.09,-0.08,-0.08,-0.09,-0.08,-0.08,-0.09,-0.08,-0.08, -0.09,-0.08,-0.08,-0.09,-0.08,-0.08,-0.09,-0.09,-0.09,-0.09, -0.08,-0.08,-0.08,-0.09,-0.09,-0.09,-0.09,-0.09,-0.09,-0.09, -0.09,-0.09,-0.09,-0.09,-0.09,-0.09,-0.09,-0.09,-0.09,-0.09, -0.09,-0.09,-0.09];
var obsFreshwaterFungi = [[0.5,2],[0.89,0]];
var fitFreshwaterPlantae = [-0.08,-0.08,-0.08,-0.08,-0.08,-0.08,-0.08,-0.08,-0.08,-0.07, -0.07,-0.07,-0.07,-0.06,-0.06,-0.06,-0.05,-0.03,-0.02,-0.01, 0,0,0.01,0.02,0.03,0.03,0.04,0.05,0.05,0.06, 0.07,0.08,0.09,0.1,0.11,0.12,0.13,0.14,0.15,0.16, 0.17,0.19,0.27];
var hiFreshwaterPlantae = [0.25,0.27,0.28,0.29,0.3,0.3,0.31,0.32,0.33,0.35, 0.37,0.38,0.4,0.42,0.44,0.45,0.48,0.58,0.62,0.66, 0.7,0.74,0.76,0.8,0.85,0.9,0.95,1.0,1.05,1.1, 1.15,1.22,1.28,1.35,1.42,1.5,1.55,1.62,1.7,1.75, 1.85,1.9,2.0];
var loFreshwaterPlantae = [-0.13,-0.13,-0.13,-0.13,-0.13,-0.13,-0.13,-0.13,-0.13,-0.13, -0.13,-0.13,-0.13,-0.13,-0.13,-0.13,-0.13,-0.13,-0.13,-0.13, -0.13,-0.13,-0.13,-0.13,-0.13,-0.13,-0.13,-0.13,-0.13,-0.13, -0.13,-0.13,-0.13,-0.13,-0.13,-0.13,-0.13,-0.13,-0.13,-0.13, -0.13,-0.13,-0.13];
var obsFreshwaterPlantae = [[0.42,1],[0.44,1],[0.74,0],[0.78,0],[0.89,0]];

// Open marsh & conif.
var xOpenMarsh = [0.16,0.17,0.18,0.27,0.4,0.47,0.56,0.6,0.61,0.62, 0.63,0.64,0.65,0.66,0.67,0.68,0.69,0.7,0.71,0.72, 0.73,0.74,0.75,0.76,0.77,0.78,0.79,0.8,0.81,0.82, 0.83,0.84,0.85];
var fitOpenMarshAnimal = [6.8,7,6.3,5.6,5.5,6.2,9.3,7.5,6.5,7.8, 5.8,7.0,6.0,9.0,6.5,9.5,6.0,8.5,6.2,9.0, 6.2,8.0,6.0,9.5,7.0,10.2,6.0,5.5,8.5,7.5, 9.0,7.5,7.2];
var hiOpenMarshAnimal = [17,16,15.5,14,13.3,14.5,21,17,16,14, 12,16,13,18,14,19,15,17,14,18, 16,22,15,18,16,20,14,16,16,18, 19,17,14];
var loOpenMarshAnimal = [2.5,2.5,2.6,2.5,2.6,2.8,4.2,3.2,3,3.4, 2.8,3.2,2.9,3.6,3.0,3.8,2.9,3.5,3.0,3.6, 3.0,3.4,3.0,3.8,3.2,4.0,2.9,2.8,3.4,3.2, 3.5,3.2,3.1];
var obsOpenMarshAnimal = [[0.09,0],[0.18,0],[0.2,1],[0.31,3],[0.44,1],[0.45,5],[0.59,2],[0.6,4],[0.61,0],[0.62,0],[0.62,2],[0.64,0],[0.66,1],[0.83,0]];
var fitOpenMarshAves = [30,30,30,29.8,29.8,30,31,30,29.8,30.5, 29.5,30,29.8,30.5,29.8,30.6,29.8,30.4,30,30.6, 30,30.2,29.8,30.8,30.2,31,29.8,30,30.6,30.4, 31,30.8,31];
var hiOpenMarshAves = [63,63,63,62.5,62,61.5,61.5,61,60.5,60.5, 60,60,60,60.5,60,60.5,60,60,60.5,60, 60.5,61,60,60,60.5,62,60,60,60.5,60, 61,60,60.5];
var loOpenMarshAves = [15,15,15,15,15,15,15.5,15.5,15.5,15.5, 15.5,15.5,15.5,15.5,15.5,15.5,15.5,15.5,15.5,15.5, 15.5,15.5,15.5,15.5,15.5,15.5,15.5,15.5,15.5,15.5, 16,16,16];
var obsOpenMarshAves = [[0.09,19],[0.18,12],[0.2,0],[0.31,1],[0.44,2],[0.45,0],[0.59,7],[0.61,4],[0.61,1],[0.62,0],[0.62,17],[0.63,0],[0.65,0],[0.67,11],[0.84,8]];
var fitOpenMarshFungi = [10,9.8,9.5,8.5,7.8,8.5,10.5,9.0,8.5,9.0, 7.8,9.0,8.0,10.0,8.0,10.3,8.0,9.5,8.0,9.8, 8.0,9.5,7.8,10.0,8.2,10.2,8.0,7.2,9.0,8.2, 9.3,8.5,8.3];
var hiOpenMarshFungi = [25,24,23,21,19,20,23.5,19,17,19, 15,20,16,21,16,21,16,20,15,20, 16,21,15,21,16,19,15,18,15,20, 19,17,18];
var loOpenMarshFungi = [4,3.8,3.8,3.6,3.5,3.7,4.4,3.9,3.7,3.9, 3.4,3.9,3.5,4.2,3.5,4.2,3.5,4.0,3.5,4.1, 3.5,4.0,3.4,4.2,3.6,4.2,3.5,3.2,3.9,3.6, 4.0,3.7,3.6];
var obsOpenMarshFungi = [[0.09,0],[0.18,0],[0.2,5],[0.31,0],[0.44,3],[0.45,3],[0.59,1],[0.6,5],[0.61,2],[0.61,3],[0.62,0],[0.63,0],[0.65,0],[0.66,0],[0.84,0]];
var fitOpenMarshPlantae = [10,10,10,12,15,18,24,25,25.5,26, 26.5,27,27.5,29,29,30.5,30,31,31.5,32.5, 33,34,34,35.5,36,37,36.5,37,38.5,39, 40,41,41];
var hiOpenMarshPlantae = [22,22,22,26,32,36,45,50,48,49, 50,52,51,54,53,55,55,57,58,60, 61,63,62,65,65,68,67,70,70,74, 76,83,80];
var loOpenMarshPlantae = [5,5,5,6,7.5,9,12,13,13,13.5, 13.5,14,14,15,15,15.5,15.5,16,16,17, 17,17.5,17.5,18,18.5,19,19,19.5,20,20.5, 21,21.5,21.5];
var obsOpenMarshPlantae = [[0.09,0],[0.18,0],[0.31,3],[0.44,11],[0.45,12],[0.59,0],[0.6,9],[0.61,0],[0.61,2],[0.62,4],[0.62,6],[0.65,13],[0.67,0],[0.84,1]];

// Urban/ developed
var xUrbanDev = [0.21,0.23,0.25,0.26,0.28,0.3,0.32,0.34,0.36,0.38, 0.4,0.42,0.44,0.46,0.48,0.5,0.52,0.54,0.56,0.58, 0.6,0.62,0.64,0.66,0.68,0.7,0.72,0.74,0.76,0.78, 0.8,0.82,0.84,0.86,0.89];
var fitUrbanDevAnimal = [1.8,1.6,1.4,2.5,1.9,2.4,1.5,2.7,2.0,1.5, 2.3,2.8,1.6,2.1,1.5,2.6,2.0,2.7,1.5,2.2, 1.8,2.7,1.5,2.4,1.9,2.8,1.4,2.1,2.6,1.5, 2.3,1.8,1.7,1.8,2.2];
var hiUrbanDevAnimal = [2.6,2.4,3.5,3.2,2.8,3.3,2.7,3.5,2.9,2.7, 3.2,3.6,2.8,3.1,2.7,3.4,3.0,3.6,2.7,3.2, 2.9,3.7,2.7,3.3,2.9,3.8,2.6,3.1,3.5,2.7, 3.2,2.9,2.8,2.5,2.6];
var loUrbanDevAnimal = [1.2,1.1,1.0,1.6,1.2,1.5,1.0,1.7,1.3,1.0, 1.5,1.7,1.0,1.4,1.0,1.7,1.3,1.7,1.0,1.4, 1.2,1.7,1.0,1.5,1.2,1.8,0.9,1.4,1.7,1.0, 1.5,1.2,1.2,1.3,1.5];
var obsUrbanDevAnimal = [[0.17,0],[0.2,1],[0.24,1],[0.28,0],[0.29,0],[0.31,0],[0.33,0],[0.33,1],[0.36,5],[0.37,1],[0.4,0],[0.42,0],[0.43,1],[0.45,0],[0.48,5],[0.49,0],[0.5,1],[0.52,0],[0.54,0],[0.56,1],[0.57,4],[0.58,0],[0.6,0],[0.61,4],[0.62,1],[0.64,5],[0.65,0],[0.67,5],[0.67,0],[0.69,4],[0.71,0],[0.73,0],[0.75,0],[0.76,1],[0.78,0],[0.8,3],[0.82,4],[0.83,0],[0.85,3],[0.86,1],[0.88,1],[0.9,0],[0.92,1],[0.93,0],[0.95,0]];
var fitUrbanDevAves = [44,43.5,44.5,43,45,43.5,44.5,43,45,43.5, 44.5,43,45,43.5,44.5,43,45,43.5,44.5,43, 45,43.5,44.5,43,45,43.5,44.5,43,45,43.5, 44.5,43,45,44,44];
var hiUrbanDevAves = [62,64,62,63,61,62,61,62,61,62, 60,61,61,62,60,61,60,62,60,61, 60,62,60,61,60,61,60,61,60,62, 60,61,60,60,60];
var loUrbanDevAves = [31,31,32,32,32,32,32,33,33,33, 33,33,33,33,33,33,33,33,33,33, 33,33,34,34,34,34,34,34,34,34, 34,34,34,34,34];
var obsUrbanDevAves = [[0.17,26],[0.2,20],[0.21,19],[0.26,15],[0.28,14],[0.29,6],[0.3,5],[0.3,31],[0.31,31],[0.32,11],[0.32,61],[0.33,40],[0.34,12],[0.35,20],[0.35,28],[0.36,9],[0.37,35],[0.38,10],[0.38,17],[0.39,8],[0.4,14],[0.41,22],[0.42,4],[0.42,61],[0.42,28],[0.43,20],[0.44,24],[0.45,18],[0.46,12],[0.47,20],[0.48,6],[0.49,14],[0.49,28],[0.5,26],[0.51,10],[0.52,22],[0.53,17],[0.54,13],[0.55,26],[0.56,19],[0.57,5],[0.58,1],[0.58,8],[0.59,55],[0.59,12],[0.6,20],[0.61,11],[0.62,26],[0.63,16],[0.64,34],[0.65,22],[0.66,7],[0.67,17],[0.68,28],[0.69,12],[0.7,30],[0.71,14],[0.72,25],[0.73,9],[0.74,19],[0.75,4],[0.75,27],[0.76,57],[0.77,14],[0.78,21],[0.79,8],[0.8,20],[0.81,30],[0.82,16],[0.83,10],[0.84,24],[0.85,6],[0.86,20],[0.87,14],[0.88,25],[0.89,8],[0.9,32],[0.91,18],[0.92,22],[0.93,15],[0.95,28],[0.96,20]];
var fitUrbanDevFungi = [1.1,1.0,0.9,1.3,1.05,1.2,0.9,1.3,1.1,0.9, 1.2,1.3,0.9,1.1,0.85,1.25,1.05,1.3,0.85,1.15, 0.95,1.3,0.85,1.1,1.2,0.8,1.05,1.25,0.85,1.15, 0.9,1.1,0.8,1.0,0.95];
var hiUrbanDevFungi = [2.0,2.5,1.8,2.1,1.9,2.2,1.8,2.3,1.9,1.8, 2.0,2.2,1.8,2.0,1.7,2.2,1.9,2.1,1.7,2.0, 1.8,2.2,1.7,2.0,2.1,1.6,1.9,2.1,1.6,2.0, 1.7,1.9,1.7,1.8,1.7];
var loUrbanDevFungi = [0.5,0.5,0.45,0.6,0.5,0.55,0.45,0.6,0.5,0.45, 0.55,0.6,0.45,0.5,0.45,0.6,0.5,0.6,0.4,0.55, 0.45,0.6,0.4,0.5,0.55,0.4,0.5,0.55,0.4,0.55, 0.4,0.5,0.4,0.5,0.45];
var obsUrbanDevFungi = [[0.17,0],[0.2,0],[0.22,0],[0.26,0],[0.28,0],[0.3,0],[0.32,0],[0.35,0],[0.37,0],[0.39,0],[0.41,0],[0.43,0],[0.45,0],[0.47,0],[0.5,0],[0.52,0],[0.55,0],[0.57,0],[0.59,0],[0.61,0],[0.63,0],[0.65,0],[0.67,0],[0.69,0],[0.71,0],[0.74,0],[0.76,0],[0.78,0],[0.8,0],[0.83,0],[0.86,0],[0.88,0],[0.9,0],[0.92,0],[0.95,0],[0.27,2],[0.33,2],[0.34,3],[0.4,2],[0.48,2],[0.49,3],[0.51,2],[0.53,4],[0.6,4],[0.62,4],[0.62,5],[0.64,4],[0.65,2],[0.66,5],[0.69,4],[0.77,2],[0.86,3],[0.87,2],[0.88,2],[0.9,4],[0.92,2],[0.89,1]];
var fitUrbanDevPlantae = [2,2,2.1,2.2,2.3,2.4,2.5,2.6,2.8,2.9, 3,3.2,3.3,3.5,3.6,3.8,4,4.1,4.3,4.5, 4.7,4.9,5.1,5.3,5.5,5.7,5.9,6.2,6.4,6.7, 6.9,7.2,7.5,7.7,8.1];
var hiUrbanDevPlantae = [2.8,2.9,3,3.1,3.3,3.4,3.6,3.7,3.9,4.1, 4.3,4.5,4.7,4.9,5.1,5.3,5.6,5.8,6.1,6.3, 6.6,6.9,7.2,7.5,7.8,8.1,8.4,8.8,9.1,9.5, 9.9,10.3,10.8,11.2,11.5];
var loUrbanDevPlantae = [1.2,1.3,1.3,1.4,1.5,1.5,1.6,1.7,1.8,1.9, 2,2.1,2.2,2.3,2.4,2.5,2.6,2.7,2.8,3, 3.1,3.2,3.4,3.5,3.6,3.8,3.9,4.1,4.2,4.4, 4.5,4.7,4.9,5.1,5.3];
var obsUrbanDevPlantae = [[0.17,0],[0.28,16],[0.33,10],[0.34,5],[0.37,6],[0.44,14],[0.47,9],[0.5,7],[0.54,13],[0.57,10],[0.58,13],[0.61,18],[0.62,21],[0.66,8],[0.68,8],[0.72,8],[0.78,17],[0.82,3],[0.85,3],[0.87,4],[0.88,2],[0.2,0],[0.23,0],[0.26,0],[0.29,0],[0.31,0],[0.34,0],[0.36,0],[0.39,0],[0.41,0],[0.43,0],[0.46,0],[0.48,0],[0.5,0],[0.52,0],[0.55,0],[0.57,0],[0.59,0],[0.61,0],[0.63,0],[0.65,0],[0.67,0],[0.69,0],[0.71,0],[0.73,0],[0.75,0],[0.77,0],[0.79,0],[0.81,0],[0.83,0],[0.85,0],[0.87,0],[0.89,0],[0.91,0],[0.93,0],[0.95,0],[0.97,0],[0.5,1],[0.55,2],[0.6,2],[0.62,3],[0.64,1],[0.66,2],[0.68,3],[0.7,1],[0.72,3],[0.74,2],[0.76,4],[0.78,5],[0.8,2],[0.83,1],[0.86,3],[0.89,2],[0.91,1]];

// Urban/ riparian/ vegetated
var xUrbanRip = [0.53,0.67,0.68,0.69,0.7,0.71,0.72,0.73,0.74,0.75, 0.76,0.77,0.78,0.79,0.8,0.81,0.82,0.83,0.84,0.85, 0.86,0.87,0.88];
var fitUrbanRipAnimal = [2.8,3.1,3.0,2.7,3.5,2.4,3.8,2.8,4.3,2.6, 3.8,2.7,3.5,2.6,3.4,2.8,3.6,2.5,3.3,4.3, 2.4,4.5,3.3];
var hiUrbanRipAnimal = [6.6,7.2,7,8,9,7,9.5,7.5,9.8,7, 8.5,7.5,7.8,7,8,7,7.5,6.5,7,7.5, 6.5,9.5,6];
var loUrbanRipAnimal = [1.1,1.3,1.3,1.2,1.5,1.0,1.6,1.2,1.8,1.1, 1.6,1.2,1.5,1.1,1.5,1.2,1.5,1.1,1.4,1.8, 1.0,1.9,1.4];
var obsUrbanRipAnimal = [[0.19,1],[0.38,1],[0.47,1],[0.48,0],[0.52,0],[0.59,5],[0.59,1],[0.59,2],[0.61,2],[0.61,0],[0.62,0],[0.8,1],[0.88,0]];
var fitUrbanRipAves = [48,48.5,48,49,48,49.5,48.5,49,48,49.5, 48.5,49,48,49.5,48.5,49,48,49.5,48.5,49, 48,50,49];
var hiUrbanRipAves = [92,93,93,92,93,92,93,92,93,92, 93,96,93,92,93,92,93,92,93,92, 93,95,92];
var loUrbanRipAves = [24,24,24.5,24,24.5,24,24.5,24,24.5,24, 24.5,24,24.5,24,24.5,24,24.5,24,24.5,24, 24.5,24,24.5];
var obsUrbanRipAves = [[0.19,15],[0.38,12],[0.47,30],[0.48,22],[0.52,5],[0.58,2],[0.59,45],[0.59,33],[0.6,14],[0.61,10],[0.61,12],[0.8,26],[0.8,17],[0.88,4]];
var fitUrbanRipFungi = [0.98,0.98,1.0,0.9,1.05,0.85,1.1,0.95,1.2,0.85, 1.1,0.9,1.05,0.85,1.0,0.85,1.05,0.8,1.1,1.2, 0.75,1.1,0.85];
var hiUrbanRipFungi = [3.05,3.0,3.1,3.0,3.0,3.4,3.0,3.2,3.1,3.5, 3.0,3.3,3.0,3.0,3.6,3.0,3.1,2.9,3.2,3.0, 2.8,3.6,2.6];
var loUrbanRipFungi = [0.2,0.2,0.2,0.2,0.2,0.18,0.2,0.2,0.22,0.18, 0.2,0.18,0.2,0.18,0.2,0.18,0.2,0.17,0.2,0.22, 0.16,0.2,0.18];
var obsUrbanRipFungi = [[0.19,3],[0.38,0],[0.47,2],[0.48,0],[0.52,0],[0.59,0],[0.6,0],[0.61,0],[0.8,2],[0.8,0],[0.88,0]];
var fitUrbanRipPlantae = [4.5,5.8,6.0,6.2,6.3,6.5,6.7,6.8,7.0,7.1, 7.3,7.4,7.6,7.7,7.8,8.0,8.1,8.3,8.4,8.6, 8.8,9.0,9.5];
var hiUrbanRipPlantae = [9.0,11.5,11.8,12,12.3,12.6,13,13.3,13.7,14, 14.3,14.7,15,15.3,15.7,16,16.4,16.8,17.2,17.6, 18,20,18.5];
var loUrbanRipPlantae = [2.0,2.8,2.9,3.0,3.1,3.2,3.3,3.4,3.5,3.6, 3.7,3.8,3.9,4.0,4.1,4.2,4.3,4.4,4.5,4.6, 4.7,4.8,4.9];
var obsUrbanRipPlantae = [[0.19,15],[0.38,0],[0.47,1],[0.48,0],[0.52,0],[0.58,3],[0.58,9],[0.6,0],[0.61,0],[0.8,1],[0.88,3]];

// panel table: rows = habitats, columns = taxa
var rowX = [xCoastal, xConifHigh, xConifMed, xConifLow, xCultivated, xFreshwater, xOpenMarsh, xUrbanDev, xUrbanRip];
var panelSets = [
	[fitCoastalAnimal, loCoastalAnimal, hiCoastalAnimal, obsCoastalAnimal], [fitCoastalAves, loCoastalAves, hiCoastalAves, obsCoastalAves], [fitCoastalFungi, loCoastalFungi, hiCoastalFungi, obsCoastalFungi], [fitCoastalPlantae, loCoastalPlantae, hiCoastalPlantae, obsCoastalPlantae],
	[fitConifHighAnimal, loConifHighAnimal, hiConifHighAnimal, obsConifHighAnimal], [fitConifHighAves, loConifHighAves, hiConifHighAves, obsConifHighAves], [fitConifHighFungi, loConifHighFungi, hiConifHighFungi, obsConifHighFungi], [fitConifHighPlantae, loConifHighPlantae, hiConifHighPlantae, obsConifHighPlantae],
	[fitConifMedAnimal, loConifMedAnimal, hiConifMedAnimal, obsConifMedAnimal], [fitConifMedAves, loConifMedAves, hiConifMedAves, obsConifMedAves], [fitConifMedFungi, loConifMedFungi, hiConifMedFungi, obsConifMedFungi], [fitConifMedPlantae, loConifMedPlantae, hiConifMedPlantae, obsConifMedPlantae],
	[fitConifLowAnimal, loConifLowAnimal, hiConifLowAnimal, obsConifLowAnimal], [fitConifLowAves, loConifLowAves, hiConifLowAves, obsConifLowAves], [fitConifLowFungi, loConifLowFungi, hiConifLowFungi, obsConifLowFungi], [fitConifLowPlantae, loConifLowPlantae, hiConifLowPlantae, obsConifLowPlantae],
	[fitCultivatedAnimal, loCultivatedAnimal, hiCultivatedAnimal, obsCultivatedAnimal], [fitCultivatedAves, loCultivatedAves, hiCultivatedAves, obsCultivatedAves], [fitCultivatedFungi, loCultivatedFungi, hiCultivatedFungi, obsCultivatedFungi], [fitCultivatedPlantae, loCultivatedPlantae, hiCultivatedPlantae, obsCultivatedPlantae],
	[fitFreshwaterAnimal, loFreshwaterAnimal, hiFreshwaterAnimal, obsFreshwaterAnimal], [fitFreshwaterAves, loFreshwaterAves, hiFreshwaterAves, obsFreshwaterAves], [fitFreshwaterFungi, loFreshwaterFungi, hiFreshwaterFungi, obsFreshwaterFungi], [fitFreshwaterPlantae, loFreshwaterPlantae, hiFreshwaterPlantae, obsFreshwaterPlantae],
	[fitOpenMarshAnimal, loOpenMarshAnimal, hiOpenMarshAnimal, obsOpenMarshAnimal], [fitOpenMarshAves, loOpenMarshAves, hiOpenMarshAves, obsOpenMarshAves], [fitOpenMarshFungi, loOpenMarshFungi, hiOpenMarshFungi, obsOpenMarshFungi], [fitOpenMarshPlantae, loOpenMarshPlantae, hiOpenMarshPlantae, obsOpenMarshPlantae],
	[fitUrbanDevAnimal, loUrbanDevAnimal, hiUrbanDevAnimal, obsUrbanDevAnimal], [fitUrbanDevAves, loUrbanDevAves, hiUrbanDevAves, obsUrbanDevAves], [fitUrbanDevFungi, loUrbanDevFungi, hiUrbanDevFungi, obsUrbanDevFungi], [fitUrbanDevPlantae, loUrbanDevPlantae, hiUrbanDevPlantae, obsUrbanDevPlantae],
	[fitUrbanRipAnimal, loUrbanRipAnimal, hiUrbanRipAnimal, obsUrbanRipAnimal], [fitUrbanRipAves, loUrbanRipAves, hiUrbanRipAves, obsUrbanRipAves], [fitUrbanRipFungi, loUrbanRipFungi, hiUrbanRipFungi, obsUrbanRipFungi], [fitUrbanRipPlantae, loUrbanRipPlantae, hiUrbanRipPlantae, obsUrbanRipPlantae]
];

// ---------- layout / style ----------
var FONT = '"Liberation Sans", Arial, Helvetica, sans-serif';
var colLeft = [68, 311, 552, 792];
var panelW = 206, stripH = 43, panelH = 88;
function rowTopPx(r) { return Math.round(11.7 + r * 162.07); }
var crossPath = 'path://M0,1.2L1.2,0L5,3.8L8.8,0L10,1.2L6.2,5L10,8.8L8.8,10L5,6.2L1.2,10L0,8.8L3.8,5Z';
var starPath = 'path://M20 10L17.39 13.06L17.07 17.07L13.06 17.39L10 20L6.94 17.39L2.93 17.07L2.61 13.06L0 10L2.61 6.94L2.93 2.93L6.94 2.61L10 0L13.06 2.61L17.07 2.93L17.39 6.94Z';

function decimals(ticks) {
	var d = 0;
	ticks.forEach(function(t) {
		var s = String(t);
		if (s.indexOf('.') >= 0) d = Math.max(d, s.split('.')[1].length);
	});
	return d;
}
// major + minor gridline positions, like ggplot
function gridValues(major, range) {
	var step = major.length > 1 ? major[1] - major[0] : 1;
	var out = [];
	for (var k = -2; k <= (major.length - 1) * 2 + 2; k++) {
		var v = Math.round((major[0] + k * step / 2) * 1e6) / 1e6;
		if (v >= range[0] && v <= range[1]) out.push(v);
	}
	return out;
}
function isMajor(v, major) {
	return major.some(function(m) { return Math.abs(m - v) < 1e-6; });
}
function makeAxis(kind, gi, range, major) {
	var all = gridValues(major, range);
	var cols = isMajor(all[0], major) ? ['#dcdcdc', '#eeeeee'] : ['#eeeeee', '#dcdcdc'];
	var d = decimals(major);
	return {
		type: 'value', gridIndex: gi, min: range[0], max: range[1],
		position: kind === 'x' ? 'bottom' : 'left',
		axisLine: { show: false, onZero: false },
		axisTick: { show: false, customValues: all.slice() },
		splitLine: { show: true, lineStyle: { color: cols, width: 0.8 } },
		axisLabel: {
			customValues: major.slice(), color: '#4d4d4d', fontSize: 12, fontFamily: FONT,
			margin: kind === 'x' ? 6 : 7,
			formatter: function(v) { return Number(v).toFixed(d); }
		}
	};
}
// second axis per panel carrying only the short outside tick marks at the major breaks
function makeTickAxis(kind, gi, range, major) {
	return {
		type: 'value', gridIndex: gi, min: range[0], max: range[1],
		position: kind === 'x' ? 'bottom' : 'left',
		axisLine: { show: false, onZero: false },
		axisTick: { show: true, customValues: major.slice(), length: 3, lineStyle: { color: '#b3b3b3', width: 1 } },
		splitLine: { show: false },
		axisLabel: { show: false }
	};
}

function buildOption() {
	var grids = [], xAxes = [], yAxes = [], tickX = [], tickY = [], series = [], graphics = [];
	for (var r = 0; r < 9; r++) {
		for (var c = 0; c < 4; c++) {
			var gi = r * 4 + c;
			var rowY = rowTopPx(r);
			grids.push({ left: colLeft[c], top: rowY + stripH, width: panelW, height: panelH, show: true, backgroundColor: '#ffffff', borderColor: '#b3b3b3', borderWidth: 1, outerBoundsMode: 'none' });
			xAxes.push(makeAxis('x', gi, xRanges[r], xTicks[r]));
			yAxes.push(makeAxis('y', gi, yRanges[gi], yTicks[gi]));
			tickX.push(makeTickAxis('x', gi, xRanges[r], xTicks[r]));
			tickY.push(makeTickAxis('y', gi, yRanges[gi], yTicks[gi]));

			graphics.push({ type: 'rect', silent: true, shape: { x: colLeft[c], y: rowY, width: panelW, height: stripH }, style: { fill: '#b3b3b3' } });
			graphics.push({ type: 'text', silent: true, x: colLeft[c] + panelW / 2, y: rowY + stripH / 2, style: { text: stripTitles[gi], fill: '#ffffff', font: '12px ' + FONT, align: 'center', verticalAlign: 'middle', lineHeight: 14.5 } });

			var xs = rowX[r], set = panelSets[gi];
			var fit = set[0], lo = set[1], hi = set[2], obs = set[3];
			var n = Math.min(xs.length, fit.length, lo.length, hi.length);
			var bandPts = [], fitA = [], fitB = [];
			for (var i = 0; i < n; i++) {
				bandPts.push([xs[i], lo[i], hi[i]]);
				fitA.push([xs[i], fit[i]]);
				fitB.push([xs[i], fit[i]]);
			}
			// observed values (grey crosses)
			series.push({ type: 'scatter', xAxisIndex: gi, yAxisIndex: gi, silent: true, z: 1, symbol: crossPath, symbolSize: 6, itemStyle: { color: 'rgba(120,120,120,0.42)' }, data: obs.map(function(p) { return [p[0], p[1]]; }) });
			// prediction interval ribbon
			series.push({
				type: 'custom', xAxisIndex: gi, yAxisIndex: gi, silent: true, z: 2,
				encode: { x: 0, y: [1, 2] }, data: bandPts,
				renderItem: (function(pts) {
					return function(params, api) {
						if (params.dataIndex !== 0) return null;
						var poly = [];
						for (var j = 0; j < pts.length; j++) poly.push(api.coord([pts[j][0], pts[j][2]]));
						for (var j2 = pts.length - 1; j2 >= 0; j2--) poly.push(api.coord([pts[j2][0], pts[j2][1]]));
						return { type: 'polygon', shape: { points: poly }, style: { fill: 'rgba(0,0,255,0.2)' } };
					};
				})(bandPts.slice())
			});
			// fitted points and line
			series.push({ type: 'scatter', xAxisIndex: gi, yAxisIndex: gi, silent: true, z: 3, symbol: starPath, symbolSize: 11, itemStyle: { color: '#0000ff' }, data: fitA });
			series.push({ type: 'line', xAxisIndex: gi, yAxisIndex: gi, silent: true, z: 4, symbol: 'none', lineStyle: { color: '#000000', width: 1.5 }, data: fitB });
		}
	}
	graphics.push({ type: 'text', silent: true, x: 20, y: 747, rotation: Math.PI / 2, style: { text: 'No. species', fill: '#000000', font: '15.5px ' + FONT, align: 'center', verticalAlign: 'middle' } });
	graphics.push({ type: 'text', silent: true, x: 533, y: 1472, style: { text: 'Habitat heterogeneity', fill: '#000000', font: '15.5px ' + FONT, align: 'center', verticalAlign: 'middle' } });
	return {
		animation: false,
		backgroundColor: '#ffffff',
		grid: grids,
		xAxis: xAxes.concat(tickX),
		yAxis: yAxes.concat(tickY),
		series: series,
		graphic: graphics
	};
}

var chart = echarts.init(document.getElementById('chart'));
chart.setOption(buildOption());
</script>
</body>
</html>
